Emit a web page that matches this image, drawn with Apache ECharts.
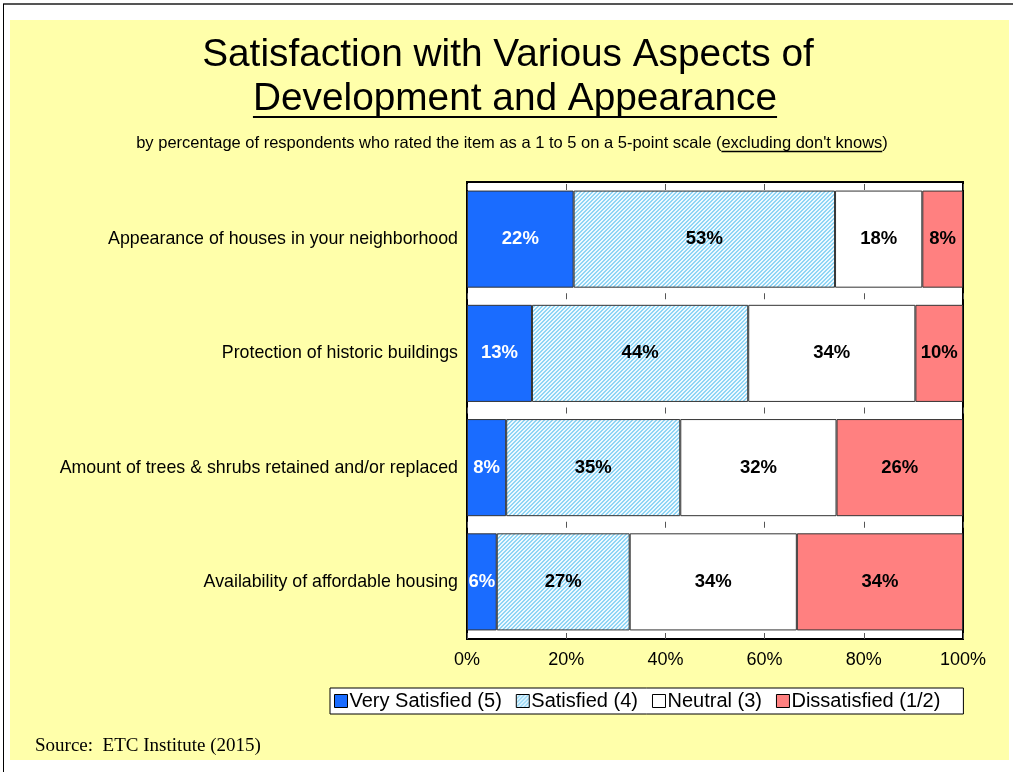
<!DOCTYPE html>
<html lang="en">
<head>
    <meta charset="UTF-8">
    <title>Satisfaction with Development and Appearance</title>
    <script src="https://cdn.jsdelivr.net/npm/echarts@6/dist/echarts.min.js"></script>
    <style>
        body { margin: 0; background: #fff; }
    </style>
</head>
<body>
<div id="chart" style="width:1013px;height:772px;"></div>
<script>
    // data (percent of respondents)
    var items = [
        'Appearance of houses in your neighborhood',
        'Protection of historic buildings',
        'Amount of trees & shrubs retained and/or replaced',
        'Availability of affordable housing'
    ];
    var verySatisfied = [21.5, 13.1, 7.9, 6.0];
    var satisfied = [52.7, 43.6, 35.1, 26.8];
    var neutral = [17.6, 33.7, 31.5, 33.7];
    var dissatisfied = [8.2, 9.6, 25.5, 33.5];
    var seriesNames = ['Very Satisfied (5)', 'Satisfied (4)', 'Neutral (3)', 'Dissatisfied (1/2)'];
    var ticks = [0, 20, 40, 60, 80, 100];

    var titleFont = '38.8px "Liberation Sans"';
    var subFont = '16.5px "Liberation Sans"';
    var subText = "by percentage of respondents who rated the item as a 1 to 5 on a 5-point scale (";
    var subLinked = "excluding don't knows";

    // measure text so the underlines sit under the right words
    var mc = document.createElement('canvas').getContext('2d');
    function textW(font, s) { mc.font = font; return mc.measureText(s).width; }
    var line2W = textW(titleFont, 'Development and Appearance');
    var subFull = subText + subLinked + ')';
    var subW = textW(subFont, subFull);
    var subX0 = 512 - subW / 2;
    var ulX1 = subX0 + textW(subFont, subText);
    var ulX2 = ulX1 + textW(subFont, subLinked);

    // hatch for the "satisfied" bars
    var hatch = document.createElement('canvas');
    hatch.width = 4;
    hatch.height = 4;
    var hc = hatch.getContext('2d');
    hc.fillStyle = '#eef9ff';
    hc.fillRect(0, 0, 4, 4);
    hc.fillStyle = '#8fd5f5';
    for (var i = 0; i < 4; i++) {
        hc.fillRect(i, 3 - i, 1, 1);
        hc.fillRect(i, (4 - i) % 4, 1, 1);
    }

    var gridTop = 182, gridBottom = 639;
    var band = (gridBottom - gridTop) / items.length;

    // extra value axes only to draw the little ticks in each gap
    var xAxes = [{
        type: 'value', min: ticks[0], max: ticks[ticks.length - 1], interval: 20,
        axisLine: {show: false},
        axisTick: {show: true, inside: true, length: 6, lineStyle: {color: '#555'}},
        splitLine: {show: false},
        axisLabel: {
            formatter: '{value}%', color: '#000', fontSize: 18,
            fontFamily: 'Liberation Sans', margin: 12
        }
    }];
    for (var k = 0; k < items.length; k++) {
        var y = gridTop + band * k + (k === 0 ? 8 : 3);
        xAxes.push({
            type: 'value', min: 0, max: 100, interval: 20, position: 'bottom',
            offset: -(gridBottom - y),
            axisLine: {show: false},
            axisTick: {show: true, inside: true, length: 6, lineStyle: {color: '#555'}},
            splitLine: {show: false},
            axisLabel: {show: false}
        });
    }

    function seg(name, values, color, labelColor) {
        return {
            name: name,
            type: 'bar',
            stack: 'all',
            barCategoryGap: '15%',
            data: values,
            itemStyle: {color: color, borderColor: '#333', borderWidth: 1},
            label: {
                show: true,
                position: 'inside',
                color: labelColor,
                fontSize: 18.5,
                fontWeight: 'bold',
                fontFamily: 'Liberation Sans',
                formatter: function (p) { return Math.round(p.value) + '%'; }
            }
        };
    }

    var ct = echarts.init(document.getElementById('chart'));
    var option = {
        animation: false,
        backgroundColor: '#fff',
        graphic: [
            {type: 'rect', z: -10, shape: {x: 10, y: 20, width: 999, height: 740}, style: {fill: '#ffffaa'}},
            {type: 'line', shape: {x1: 3, y1: 4, x2: 1013, y2: 4}, style: {stroke: '#555', lineWidth: 2}},
            {type: 'line', shape: {x1: 3.5, y1: 4, x2: 3.5, y2: 772}, style: {stroke: '#000', lineWidth: 1}},
            {type: 'text', x: 508, y: 55, style: {
                text: 'Satisfaction with Various Aspects of', fill: '#000',
                font: titleFont, textAlign: 'center', textVerticalAlign: 'middle'}},
            {type: 'text', x: 515, y: 99, style: {
                text: 'Development and Appearance', fill: '#000',
                font: titleFont, textAlign: 'center', textVerticalAlign: 'middle'}},
            {type: 'line', shape: {x1: 515 - line2W / 2, y1: 117, x2: 515 + line2W / 2, y2: 117},
                style: {stroke: '#000', lineWidth: 2}},
            {type: 'text', x: subX0, y: 143, style: {
                text: subFull, fill: '#000', font: subFont, textAlign: 'left', textVerticalAlign: 'middle'}},
            {type: 'line', shape: {x1: ulX1, y1: 151.5, x2: ulX2, y2: 151.5}, style: {stroke: '#000', lineWidth: 1.5}},
            {type: 'text', x: 35, y: 746, style: {
                text: 'Source:  ETC Institute (2015)', fill: '#000',
                font: '19px "Liberation Serif"', textVerticalAlign: 'middle'}}
        ],
        legend: {
            left: 330,
            top: 688,
            padding: [3, 23, 3, 4],
            itemGap: 14,
            itemWidth: 13,
            itemHeight: 13,
            icon: 'rect',
            backgroundColor: '#fff',
            borderColor: '#000',
            borderWidth: 1,
            borderRadius: 0,
            textStyle: {color: '#000', fontSize: 20, fontFamily: 'Liberation Sans', padding: [0, 0, 0, -3]},
            itemStyle: {borderColor: '#000', borderWidth: 1},
            data: seriesNames
        },
        grid: {
            left: 467,
            right: 50,
            top: gridTop,
            bottom: 772 - gridBottom,
            show: true,
            backgroundColor: '#fff',
            borderColor: '#000',
            borderWidth: 2
        },
        xAxis: xAxes,
        yAxis: {
            type: 'category',
            inverse: true,
            data: items,
            axisLine: {show: false},
            axisTick: {show: false},
            axisLabel: {color: '#000', fontSize: 17.8, fontFamily: 'Liberation Sans', margin: 9}
        },
        series: [
            seg(seriesNames[0], verySatisfied, '#1a6cff', '#fff'),
            seg(seriesNames[1], satisfied, {image: hatch, repeat: 'repeat'}, '#000'),
            seg(seriesNames[2], neutral, '#fff', '#000'),
            seg(seriesNames[3], dissatisfied, '#ff8080', '#000')
        ]
    };
    ct.setOption(option);
</script>
</body>
</html>
